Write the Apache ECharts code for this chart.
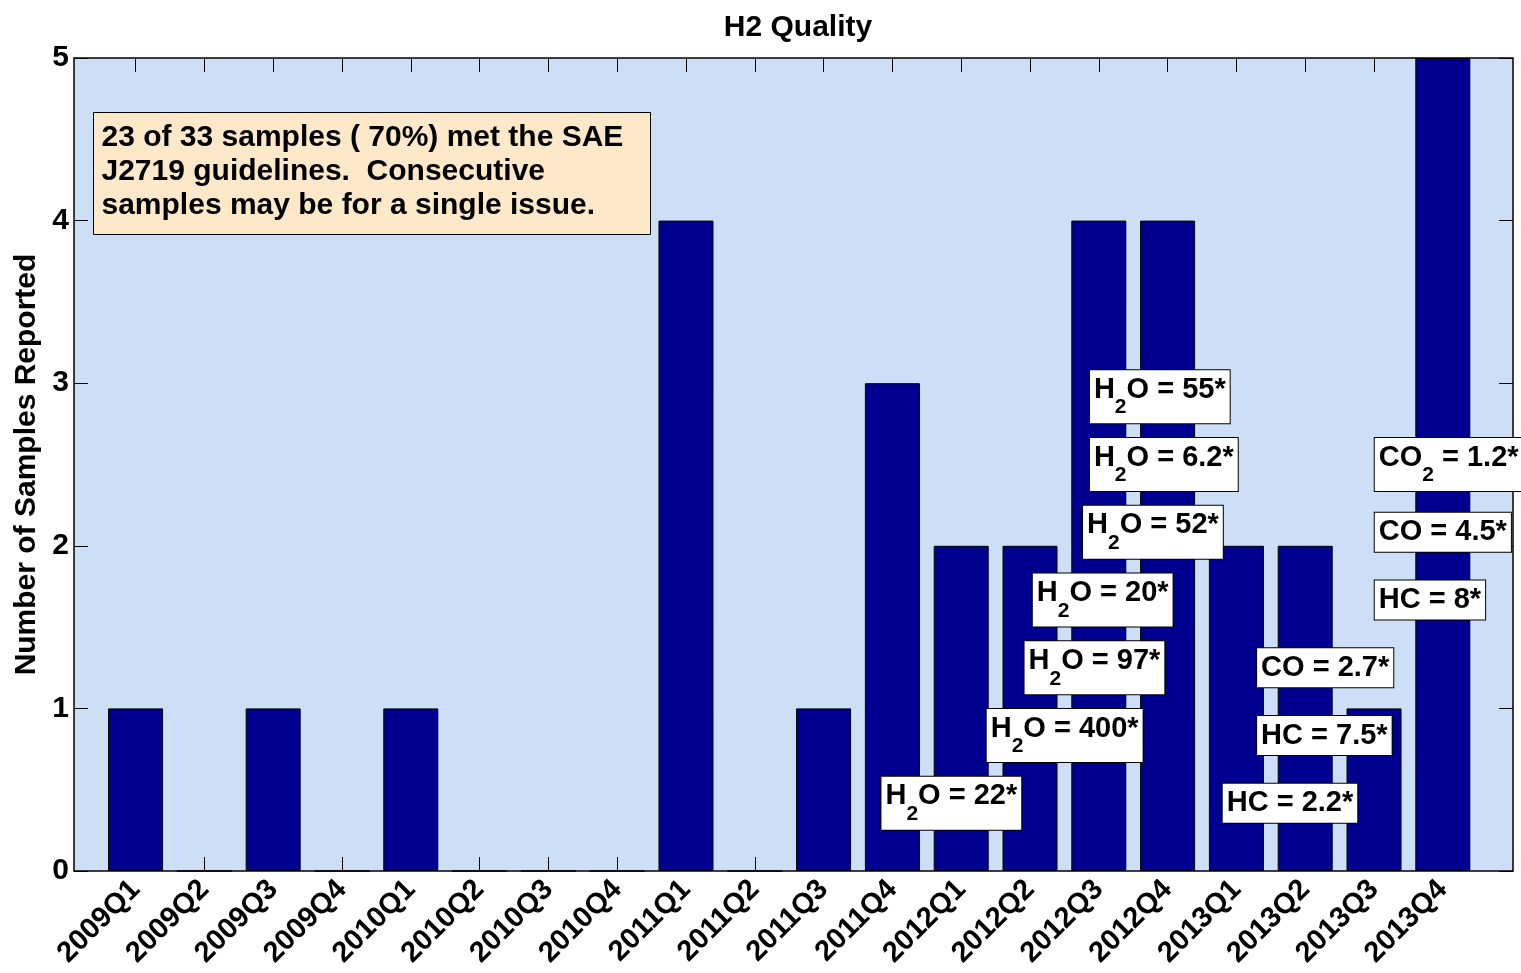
<!DOCTYPE html>
<html>
<head>
<meta charset="utf-8">
<title>H2 Quality</title>
<script src="https://cdn.jsdelivr.net/npm/echarts@6.0.0/dist/echarts.min.js"></script>
<style>
  html, body { margin: 0; padding: 0; background: #fff; }
  #main { width: 1521px; height: 973px; }
</style>
</head>
<body>
<div id="main"></div>
<script>
// quarters on the x axis, bar positions 1..20
var quarters = ['2009Q1', '2009Q2', '2009Q3', '2009Q4', '2010Q1', '2010Q2', '2010Q3', '2010Q4',
  '2011Q1', '2011Q2', '2011Q3', '2011Q4', '2012Q1', '2012Q2', '2012Q3', '2012Q4',
  '2013Q1', '2013Q2', '2013Q3', '2013Q4'];
var quarterPos = [1, 2, 3, 4, 5, 6, 7, 8, 9, 10, 11, 12, 13, 14, 15, 16, 17, 18, 19, 20];
var samples = [1, 0, 1, 0, 1, 0, 0, 0, 4, 0, 1, 3, 2, 2, 4, 4, 2, 2, 1, 5];
var yTicks = [0, 1, 2, 3, 4, 5];

// failed-sample notes (rich text: m = normal, s = subscript)
var noteText = [
  '{m|H}{s|2}{m|O = 55*}',
  '{m|H}{s|2}{m|O = 6.2*}',
  '{m|H}{s|2}{m|O = 52*}',
  '{m|H}{s|2}{m|O = 20*}',
  '{m|H}{s|2}{m|O = 97*}',
  '{m|H}{s|2}{m|O = 400*}',
  '{m|H}{s|2}{m|O = 22*}',
  '{m|CO}{s|2}{m| = 1.2*}',
  '{m|CO = 4.5*}',
  '{m|HC = 8*}',
  '{m|CO = 2.7*}',
  '{m|HC = 7.5*}',
  '{m|HC = 2.2*}'
];
var noteX = [14.87, 14.87, 14.77, 14.04, 13.92, 13.37, 11.84, 19.01, 19.01, 19.01, 17.30, 17.30, 16.80];
var noteY = [2.917, 2.5, 2.083, 1.667, 1.25, 0.833, 0.417, 2.5, 2.083, 1.667, 1.25, 0.833, 0.417];

var infoLines = [
  '23 of 33 samples ( 70%) met the SAE',
  'J2719 guidelines.  Consecutive',
  'samples may be for a single issue.'
];

var FONT = 'Arial, "Liberation Sans", sans-serif';

var chart = echarts.init(document.getElementById('main'));

var barData = [];
quarterPos.forEach(function (p, i) {
  barData.push([p, samples[i]]);
});

var noteData = [];
noteText.forEach(function (t, i) {
  noteData.push({ value: [noteX[i], noteY[i]], label: { formatter: t } });
});

var option = {
  animation: false,
  title: {
    text: 'H2 Quality',
    left: 793,
    top: 8,
    textAlign: 'center',
    textStyle: { fontFamily: FONT, fontSize: 30, fontWeight: 'bold', color: '#000' }
  },
  grid: {
    left: 74,
    right: 8,
    top: 58,
    bottom: 102,
    show: true,
    backgroundColor: '#CCDFF7',
    borderColor: '#000',
    borderWidth: 1.5
  },
  xAxis: [
    {
      type: 'value',
      position: 'bottom',
      min: 0.105,
      max: 21.02,
      axisLine: { show: false, onZero: false },
      splitLine: { show: false },
      axisTick: {
        inside: true,
        length: 14,
        customValues: quarterPos,
        lineStyle: { color: '#000', width: 1 }
      },
      axisLabel: {
        customValues: quarterPos,
        rotate: 45,
        margin: 14,
        fontFamily: FONT,
        fontSize: 29,
        fontWeight: 'bold',
        color: '#000',
        formatter: function (v) { return quarters[Math.round(v) - 1] || ''; }
      }
    },
    {
      type: 'value',
      position: 'top',
      min: 0.105,
      max: 21.02,
      axisLine: { show: false, onZero: false },
      splitLine: { show: false },
      axisTick: {
        show: true,
        inside: true,
        length: 14,
        customValues: quarterPos,
        lineStyle: { color: '#000', width: 1 }
      },
      axisLabel: {
        show: true,
        customValues: quarterPos,
        color: 'rgba(0,0,0,0)',
        formatter: function () { return ''; }
      }
    }
  ],
  yAxis: [
    {
      type: 'value',
      min: 0,
      max: 5,
      interval: 1,
      name: 'Number of Samples Reported',
      nameLocation: 'middle',
      nameGap: 30,
      nameTextStyle: { fontFamily: FONT, fontSize: 30, fontWeight: 'bold', color: '#000' },
      axisLine: { show: false, onZero: false },
      splitLine: { show: false },
      axisTick: { inside: true, length: 14, lineStyle: { color: '#000', width: 1 } },
      axisLabel: {
        margin: 5,
        fontFamily: FONT,
        fontSize: 30,
        fontWeight: 'bold',
        color: '#000',
        formatter: function (v) { return yTicks.indexOf(v) >= 0 ? String(v) : ''; }
      }
    },
    {
      type: 'value',
      position: 'right',
      min: 0,
      max: 5,
      interval: 1,
      axisLine: { show: false, onZero: false },
      splitLine: { show: false },
      axisTick: { inside: true, length: 14, lineStyle: { color: '#000', width: 1 } },
      axisLabel: { show: false }
    }
  ],
  series: [
    {
      type: 'bar',
      xAxisIndex: 0,
      yAxisIndex: 0,
      data: barData,
      barWidth: 55,
      itemStyle: { color: '#000090', borderColor: '#000', borderWidth: 1 },
      silent: true
    },
    {
      type: 'scatter',
      xAxisIndex: 0,
      yAxisIndex: 0,
      data: noteData,
      symbolSize: 0.1,
      itemStyle: { color: 'rgba(0,0,0,0)', opacity: 1 },
      silent: true,
      z: 5,
      label: {
        show: true,
        position: 'right',
        distance: 0,
        backgroundColor: '#fff',
        borderColor: '#000',
        borderWidth: 1,
        padding: [5, 4, 5, 4],
        color: '#000',
        opacity: 1,
        rich: {
          m: { fontFamily: FONT, fontSize: 29, fontWeight: 'bold', color: '#000', verticalAlign: 'top' },
          s: { fontFamily: FONT, fontSize: 21, fontWeight: 'bold', color: '#000', verticalAlign: 'top', padding: [22, 0, 0, 0] }
        }
      }
    }
  ],
  graphic: [
    {
      type: 'group',
      left: 93,
      top: 112,
      children: [
        {
          type: 'rect',
          shape: { x: 0, y: 0, width: 557, height: 122 },
          style: { fill: '#FDE8CA', stroke: '#000', lineWidth: 1 }
        },
        {
          type: 'text',
          x: 8,
          y: 8,
          style: {
            text: infoLines.join('\n'),
            font: 'bold 30px ' + FONT,
            fill: '#000',
            lineHeight: 34
          }
        }
      ]
    }
  ]
};

chart.setOption(option);
</script>
</body>
</html>
